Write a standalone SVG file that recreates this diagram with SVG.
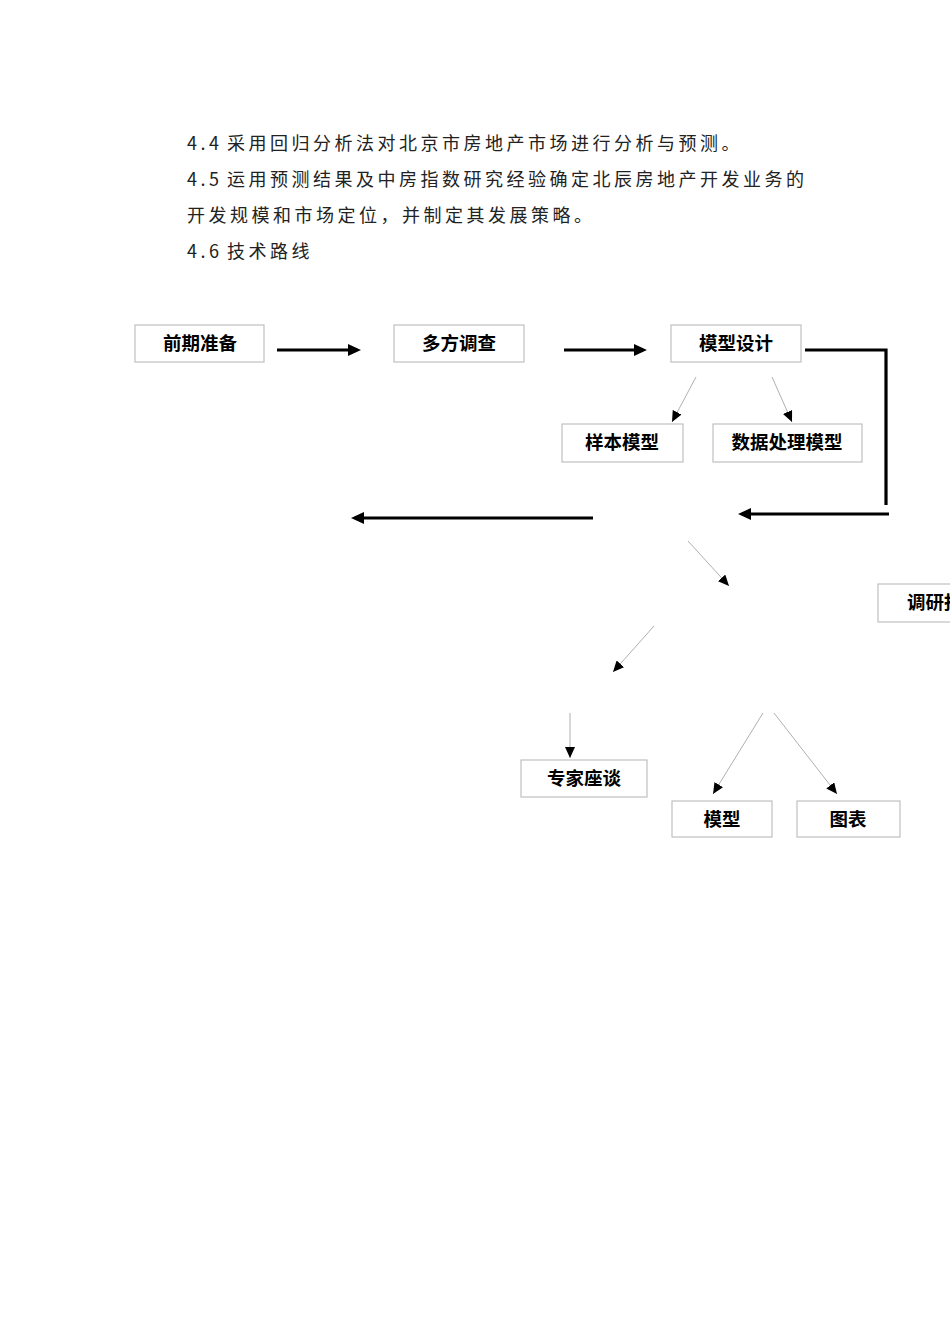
<svg xmlns="http://www.w3.org/2000/svg" width="950" height="1344" viewBox="0 0 950 1344">
<style>
.body{font-family:"Noto Sans CJK SC","Liberation Sans",sans-serif;font-size:18px;letter-spacing:3.5px;fill:#222}
.box rect{fill:#fff;stroke:#c0c0c0;stroke-width:1.2}
.box text{font-family:"Noto Sans CJK SC","Liberation Sans",sans-serif;font-size:18.5px;font-weight:bold;fill:#000;text-anchor:middle}
.thick{stroke:#000;stroke-width:3.2;fill:none}
.thin{stroke:#b0b0b0;stroke-width:1;fill:none}
</style>
<defs>
<marker id="ah" markerWidth="13" markerHeight="12" refX="9" refY="6" orient="auto" markerUnits="userSpaceOnUse"><path d="M0,0 L13,6 L0,12 z" fill="#000"/></marker>
<marker id="as" markerWidth="11" markerHeight="10" refX="11" refY="5" orient="auto" markerUnits="userSpaceOnUse"><path d="M0,0 L11,5 L0,10 z" fill="#000"/></marker>
</defs>
<rect width="950" height="1344" fill="#fff"/>
<g id="paragraph">
<text class="body" x="187" y="150">4.4<tspan x="227">采用回归分析法对北京市房地产市场进行分析与预测。</tspan></text>
<text class="body" x="187" y="186">4.5<tspan x="227">运用预测结果及中房指数研究经验确定北辰房地产开发业务的</tspan></text>
<text class="body" x="187" y="222">开发规模和市场定位，并制定其发展策略。</text>
<text class="body" x="187" y="258">4.6<tspan x="227">技术路线</tspan></text>
</g>
<g id="connectors">
<line class="thick" x1="277" y1="350" x2="357" y2="350" marker-end="url(#ah)"/>
<line class="thick" x1="564" y1="350" x2="643" y2="350" marker-end="url(#ah)"/>
<polyline class="thick" points="805,350 886,350 886,505"/>
<line class="thick" x1="889" y1="514" x2="742" y2="514" marker-end="url(#ah)"/>
<line class="thick" x1="593" y1="518" x2="355" y2="518" marker-end="url(#ah)"/>
<line class="thin" x1="696" y1="377" x2="672" y2="422" marker-end="url(#as)"/>
<line class="thin" x1="772" y1="377" x2="792" y2="422" marker-end="url(#as)"/>
<line class="thin" x1="688" y1="541" x2="729" y2="586" marker-end="url(#as)"/>
<line class="thin" x1="654" y1="626" x2="613" y2="672" marker-end="url(#as)"/>
<line class="thin" x1="570" y1="713" x2="570" y2="758" marker-end="url(#as)"/>
<line class="thin" x1="763" y1="713" x2="713" y2="794" marker-end="url(#as)"/>
<line class="thin" x1="774" y1="713" x2="837" y2="794" marker-end="url(#as)"/>
</g>
<g id="n1" class="box"><rect x="135" y="325" width="129" height="37"/><text x="200" y="350">前期准备</text></g>
<g id="n2" class="box"><rect x="394" y="325" width="130" height="37"/><text x="459" y="350">多方调查</text></g>
<g id="n3" class="box"><rect x="671" y="325" width="130" height="37"/><text x="736" y="350">模型设计</text></g>
<g id="n4" class="box"><rect x="562" y="424" width="121" height="38"/><text x="622" y="449">样本模型</text></g>
<g id="n5" class="box"><rect x="713" y="424" width="149" height="38"/><text x="787" y="449">数据处理模型</text></g>
<g id="n6" class="box"><rect x="878" y="584" width="90" height="38"/><text x="907" y="609" style="text-anchor:start">调研报告</text></g>
<g id="n7" class="box"><rect x="521" y="760" width="126" height="37"/><text x="584" y="785">专家座谈</text></g>
<g id="n8" class="box"><rect x="672" y="801" width="100" height="36"/><text x="722" y="826">模型</text></g>
<g id="n9" class="box"><rect x="797" y="801" width="103" height="36"/><text x="848" y="826">图表</text></g>
</svg>
